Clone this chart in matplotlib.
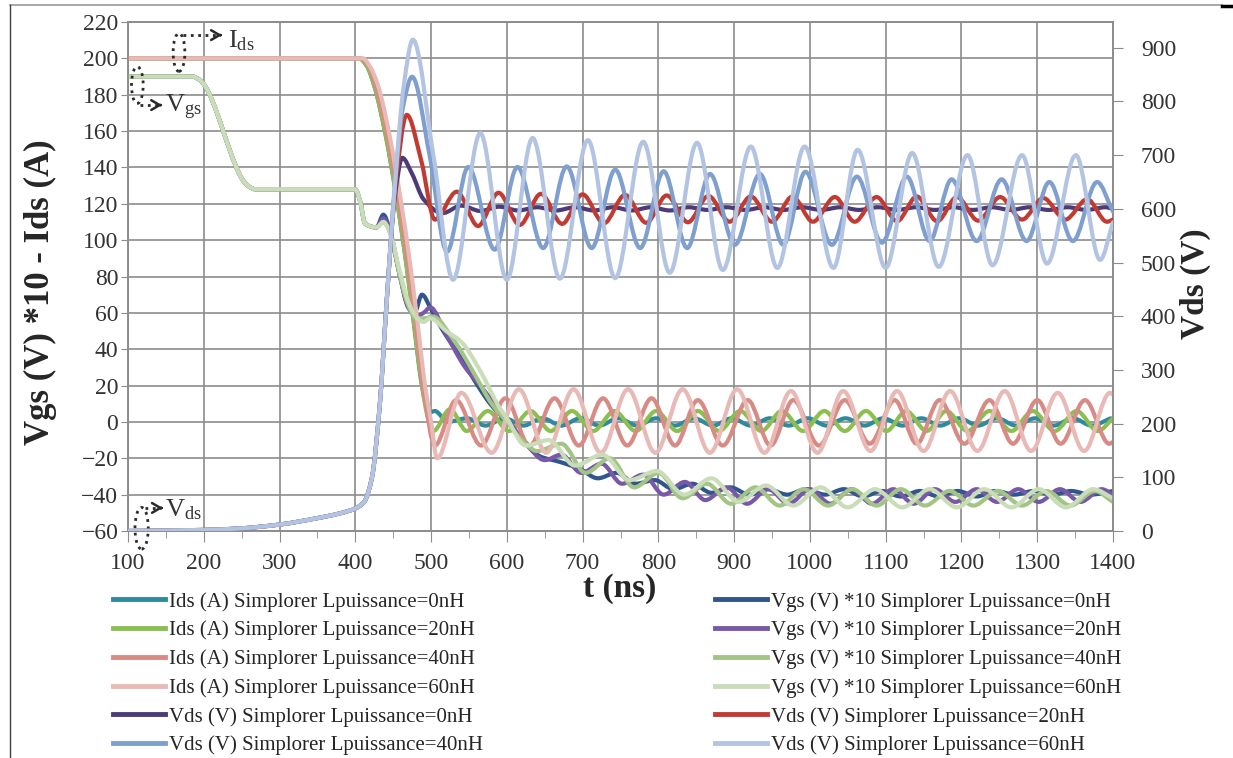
import numpy as np
import matplotlib
matplotlib.use('Agg')
import matplotlib.pyplot as plt
from matplotlib.path import Path
from matplotlib.patches import PathPatch, Ellipse
from matplotlib.lines import Line2D

plt.rcParams['font.family'] = ['Liberation Serif', 'DejaVu Serif']
plt.rcParams['mathtext.default'] = 'regular'

# ---- Ids (A) ----
ids0_t = [100, 405, 415, 425, 440, 455, 468, 478, 488, 497, 505, 522, 547, 572, 597, 622, 647, 672, 697, 722,
          747, 772, 797, 822, 847, 872, 897, 922, 947, 972, 997, 1022, 1047, 1072, 1097, 1122, 1147, 1172, 1197,
          1222, 1247, 1272, 1297, 1322, 1347, 1372, 1397]
ids0_y = [200, 200, 196, 185, 158, 122, 85, 52, 20, 5, 6, 0, 2, -2, 2, -2, 2, -2, 2, -2,
          2, -2, 2, -2, 2, -2, 2, -2, 2, -2, 2, -2, 2, -2, 2, -2, 2, -2, 2,
          -2, 2, -2, 2, -2, 2, -2, 2]

ids20_t = [100, 405, 415, 425, 440, 455, 468, 478, 488, 496, 503, 525, 547, 575, 603, 631, 658, 686, 714, 742,
           770, 797, 825, 852, 880, 908, 936, 963, 991, 1019, 1046, 1074, 1101, 1127, 1154, 1180, 1208, 1237,
           1266, 1294, 1323, 1352, 1380, 1400]
ids20_y = [200, 200, 196, 185, 158, 122, 85, 52, 20, 2, -5, 7, -5, 6, -5, 6, -5, 6, -5, 6,
           -5, 6, -5, 6, -5, 6, -5, 6, -5, 6, -5, 6, -5, 6, -5, 6, -5, 6,
           -5, 6, -5, 6, -5, 2]

ids40_t = [100, 407, 417, 427, 442, 457, 470, 480, 490, 505, 533, 566, 598, 630, 663, 695, 727, 759, 791, 822,
           852, 885, 918, 948, 978, 1012, 1046, 1079, 1112, 1141, 1171, 1204, 1237, 1268, 1300, 1331, 1363, 1395, 1400]
ids40_y = [200, 200, 196, 185, 158, 122, 85, 52, 18, -13, 12, -13, 13, -13, 13, -13, 13, -13, 13, -13,
           12, -13, 12, -13, 12, -13, 12, -12, 12, -12, 12, -12, 12, -12, 12, -12, 12, -12, -11]

ids60_t = [100, 410, 420, 430, 445, 460, 472, 482, 492, 500, 508, 540, 580, 616, 652, 688, 724, 760, 796, 832,
           868, 904, 940, 975, 1010, 1044, 1080, 1115, 1150, 1185, 1221, 1257, 1292, 1327, 1362, 1396, 1400]
ids60_y = [200, 200, 195, 185, 158, 122, 88, 55, 20, 0, -20, 16, -17, 18, -17, 18, -17, 18, -17, 18,
           -17, 18, -17, 17, -17, 17, -16, 17, -16, 17, -16, 17, -16, 16, -16, 16, 15]

# ---- Vgs (V) * 10 ----
vgs0_t = [100, 185, 195, 258, 268, 400, 406, 413, 428, 437, 446, 458, 470, 478, 488, 500, 516, 540, 560, 578,
          600, 622, 644, 670, 697, 720, 745, 770, 795, 820, 845, 870, 895, 920, 945, 970, 995, 1020, 1045, 1070,
          1095, 1120, 1145, 1170, 1195, 1220, 1245, 1270, 1295, 1320, 1345, 1370, 1400]
vgs0_y = [190, 190, 188, 130, 128, 128, 122, 109, 107, 114, 105, 82, 63, 60, 70, 62, 50, 35, 21, 10,
          0, -10, -19, -22, -26, -31, -28, -34, -32, -37, -34, -39, -36, -40, -37, -40, -37, -40, -37, -41,
          -38, -41, -38, -41, -38, -41, -38, -40, -38, -40, -38, -40, -38]

vgs20_t = [100, 185, 195, 258, 268, 400, 406, 413, 428, 437, 446, 458, 470, 480, 490, 499, 520, 545, 565, 580,
           600, 625, 650, 672, 698, 725, 752, 780, 807, 835, 862, 890, 917, 945, 972, 1000, 1027, 1055, 1082,
           1110, 1137, 1165, 1192, 1220, 1247, 1275, 1302, 1330, 1357, 1385, 1400]
vgs20_y = [190, 190, 188, 130, 128, 128, 122, 109, 107, 112, 104, 82, 63, 58, 60, 63, 48, 30, 20, 12,
           2, -12, -21, -18, -28, -23, -34, -29, -40, -33, -43, -36, -45, -37, -45, -37, -45, -37, -45,
           -37, -45, -37, -44, -37, -44, -37, -44, -37, -44, -37, -40]

vgs40_t = [100, 185, 195, 258, 268, 400, 406, 413, 428, 437, 446, 458, 470, 480, 492, 502, 530, 555, 580, 600,
           620, 640, 672, 704, 736, 768, 800, 832, 864, 896, 928, 960, 992, 1024, 1056, 1088, 1120, 1152, 1184,
           1216, 1248, 1280, 1312, 1344, 1376, 1400]
vgs40_y = [190, 190, 188, 130, 128, 128, 122, 109, 107, 110, 104, 82, 64, 57, 57, 58, 45, 28, 10, 0,
           -10, -16, -12, -28, -20, -36, -28, -42, -34, -45, -36, -46, -37, -46, -37, -46, -37, -46, -38,
           -46, -38, -46, -38, -46, -38, -44]

vgs60_t = [100, 185, 195, 258, 268, 400, 406, 413, 428, 437, 446, 458, 470, 480, 490, 499, 520, 540, 565, 590,
           600, 625, 655, 690, 726, 762, 798, 834, 870, 906, 942, 978, 1014, 1050, 1086, 1122, 1158, 1194, 1230,
           1266, 1302, 1338, 1374, 1400]
vgs60_y = [190, 190, 188, 130, 128, 128, 122, 109, 107, 110, 104, 84, 66, 58, 55, 57, 50, 44, 28, 8,
           2, -13, -10, -24, -18, -32, -27, -40, -31, -44, -35, -46, -36, -47, -37, -47, -37, -47, -37,
           -47, -37, -47, -37, -42]

# ---- Vds (V), right axis ----
vds0_t = [100, 200, 250, 300, 350, 380, 400, 412, 422, 432, 442, 452, 462, 475, 490, 515, 540, 565, 590, 615,
          640, 665, 690, 715, 740, 765, 790, 815, 840, 865, 890, 915, 940, 965, 990, 1015, 1040, 1065, 1090,
          1115, 1140, 1165, 1190, 1215, 1240, 1265, 1290, 1315, 1340, 1365, 1390, 1400]
vds0_y = [0, 2, 5, 12, 24, 33, 42, 55, 100, 230, 440, 620, 695, 665, 618, 592, 606, 596, 604, 597,
          603, 597, 603, 597, 603, 597, 603, 597, 603, 598, 603, 598, 603, 598, 603, 598, 603, 598, 603,
          598, 603, 598, 603, 598, 603, 598, 603, 598, 603, 598, 603, 600]

vds20_t = [100, 200, 250, 300, 350, 380, 400, 412, 422, 432, 442, 452, 468, 487, 505, 534, 562, 589, 617, 645,
           673, 700, 728, 756, 784, 811, 839, 866, 894, 922, 950, 977, 1004, 1033, 1059, 1088, 1115, 1141, 1168,
           1194, 1222, 1251, 1280, 1308, 1337, 1366, 1392, 1400]
vds20_y = [0, 2, 5, 12, 24, 33, 42, 55, 100, 230, 440, 630, 775, 690, 580, 632, 568, 630, 570, 628,
           572, 627, 573, 626, 574, 625, 575, 624, 576, 623, 576, 623, 576, 622, 576, 622, 577, 623, 577,
           622, 578, 622, 580, 620, 580, 618, 576, 580]

vds40_t = [100, 200, 250, 300, 350, 380, 400, 412, 422, 432, 442, 452, 463, 475, 498, 521, 549, 584, 614, 648,
           679, 712, 743, 776, 807, 838, 868, 901, 934, 965, 994, 1029, 1062, 1095, 1128, 1158, 1187, 1220, 1253,
           1286, 1316, 1347, 1379, 1400]
vds40_y = [0, 2, 5, 12, 24, 33, 42, 55, 100, 230, 440, 640, 790, 846, 700, 520, 678, 524, 678, 527,
           679, 527, 673, 527, 670, 527, 665, 533, 665, 533, 669, 533, 660, 537, 660, 540, 655, 540, 655,
           540, 650, 540, 650, 595]

vds60_t = [100, 200, 250, 300, 350, 380, 400, 412, 422, 432, 442, 452, 464, 476, 503, 529, 565, 600, 634, 670,
           707, 743, 780, 815, 851, 885, 922, 957, 993, 1031, 1063, 1100, 1135, 1170, 1208, 1241, 1280, 1313,
           1351, 1383, 1400]
vds60_y = [0, 2, 5, 12, 24, 33, 42, 55, 100, 230, 440, 640, 830, 915, 700, 468, 741, 468, 732, 470,
           728, 471, 725, 481, 723, 486, 716, 490, 716, 490, 710, 490, 704, 492, 700, 495, 700, 498,
           700, 505, 575]

W, H = 1233, 758


def smooth(ax, t, y, color, z):
    # smoothed line (like Excel "smoothed line") drawn as cubic bezier through the read points
    t = np.asarray(t, float)
    y = np.asarray(y, float)
    h = np.diff(t)
    d = np.diff(y) / h
    m = np.zeros(len(y))
    for i in range(1, len(y) - 1):
        if d[i - 1] * d[i] > 0:
            w1 = 2 * h[i] + h[i - 1]
            w2 = h[i] + 2 * h[i - 1]
            m[i] = (w1 + w2) / (w1 / d[i - 1] + w2 / d[i])
    m[0] = d[0]
    m[-1] = d[-1]
    verts = [(t[0], y[0])]
    codes = [Path.MOVETO]
    for i in range(len(h)):
        verts += [(t[i] + h[i] / 3, y[i] + m[i] * h[i] / 3),
                  (t[i + 1] - h[i] / 3, y[i + 1] - m[i + 1] * h[i] / 3),
                  (t[i + 1], y[i + 1])]
        codes += [Path.CURVE4] * 3
    ax.add_patch(PathPatch(Path(verts, codes), fill=False, edgecolor=color, lw=3,
                           zorder=z, capstyle='round', joinstyle='round'))


fig = plt.figure(figsize=(W / 100, H / 100), dpi=100)
ax = fig.add_axes([128 / W, 1 - 531 / H, (1113 - 128) / W, (531 - 22) / H])
ax2 = ax.twinx()

c = {
    'ids0': '#2f8a9e', 'ids20': '#8cbf4f', 'ids40': '#d88a84', 'ids60': '#e9b9b6',
    'vgs0': '#30558f', 'vgs20': '#7a58a8', 'vgs40': '#a2c585', 'vgs60': '#c9ddb9',
    'vds0': '#4d3a78', 'vds20': '#c23b33', 'vds40': '#7f9fcf', 'vds60': '#b3c4e2',
}

smooth(ax, ids0_t, ids0_y, c['ids0'], 3)
smooth(ax, vgs0_t, vgs0_y, c['vgs0'], 4)
smooth(ax, ids20_t, ids20_y, c['ids20'], 5)
smooth(ax, vgs20_t, vgs20_y, c['vgs20'], 6)
smooth(ax, ids40_t, ids40_y, c['ids40'], 7)
smooth(ax, vgs40_t, vgs40_y, c['vgs40'], 8)
smooth(ax, ids60_t, ids60_y, c['ids60'], 9)
smooth(ax, vgs60_t, vgs60_y, c['vgs60'], 10)
smooth(ax2, vds0_t, vds0_y, c['vds0'], 3)
smooth(ax2, vds20_t, vds20_y, c['vds20'], 4)
smooth(ax2, vds40_t, vds40_y, c['vds40'], 5)
smooth(ax2, vds60_t, vds60_y, c['vds60'], 6)

gc = '#8c8c8c'
tc = '#333333'
ax.set_xlim(100, 1400)
ax.set_ylim(-60, 220)
ax2.set_ylim(0, 948)
ax.set_xticks(range(100, 1401, 100))
ax.set_xticks(range(150, 1400, 100), minor=True)
ax.set_yticks(range(-60, 221, 20))
ax2.set_yticks(range(0, 901, 100))
ax.grid(True, which='major', color=gc, lw=1.2)
ax.set_axisbelow(True)
ax.tick_params(axis='x', which='major', direction='out', length=8, color=gc, labelsize=17, labelcolor=tc, pad=8)
ax.tick_params(axis='x', which='minor', direction='out', length=5, color=gc)
ax.tick_params(axis='y', direction='out', length=5, color=gc, labelsize=17, labelcolor=tc, pad=2)
ax2.tick_params(axis='y', direction='out', length=7, color=gc, labelsize=17, labelcolor=tc, pad=13)
for a in (ax, ax2):
    for s in a.spines.values():
        s.set_color(gc)
        s.set_linewidth(1.2)

fig.text(40 / W, 1 - 292 / H, 'Vgs (V) *10 - Ids (A)', rotation=90, ha='center', va='center',
         fontsize=25, fontweight='bold', color='#262626')
fig.text(1195 / W, 1 - 284 / H, 'Vds (V)', rotation=90, ha='center', va='center',
         fontsize=24, fontweight='bold', color='#262626')
fig.text(620 / W, 1 - 588 / H, 't (ns)', ha='center', va='center',
         fontsize=24, fontweight='bold', color='#262626')

# dotted annotations
ac = '#2a2a2a'
for (cx, cy, w, h) in [(167.3, 203.3, 15.4, 21), (112.3, 185.3, 15.4, 20.2), (118, -58.5, 17.6, 22.9)]:
    ax.add_patch(Ellipse((cx, cy), w, h, fill=False, ec=ac, lw=2, ls=':', clip_on=False, zorder=20))
for (x0, x1, yy) in [(172.6, 224, 212.8), (115.8, 145, 174.3), (122.4, 146, -47.3)]:
    ax.plot([x0, x1 - 3], [yy, yy], color=ac, lw=2, ls=':', clip_on=False, zorder=20)
    ax.annotate('', xy=(x1, yy), xytext=(x1 - 6, yy), clip_on=False, zorder=20,
                arrowprops=dict(arrowstyle='->,head_length=0.6,head_width=0.35', color=ac, lw=1.8))
ax.text(232, 206, r'$I_{ds}$', fontsize=19, color='#333333', ha='left', va='baseline', zorder=21)
ax.text(149, 170.5, r'$V_{gs}$', fontsize=19, color='#333333', ha='left', va='baseline', zorder=21)
ax.text(149, -51.7, r'$V_{ds}$', fontsize=19, color='#333333', ha='left', va='baseline', zorder=21)

# legends
def h(key, label):
    return Line2D([], [], color=c[key], lw=3.5, label=label)

col1 = [h('ids0', 'Ids (A) Simplorer Lpuissance=0nH'),
        h('ids20', 'Ids (A) Simplorer Lpuissance=20nH'),
        h('ids40', 'Ids (A) Simplorer Lpuissance=40nH'),
        h('ids60', 'Ids (A) Simplorer Lpuissance=60nH'),
        h('vds0', 'Vds (V) Simplorer Lpuissance=0nH'),
        h('vds40', 'Vds (V) Simplorer Lpuissance=40nH')]
col2 = [h('vgs0', 'Vgs (V) *10 Simplorer Lpuissance=0nH'),
        h('vgs20', 'Vgs (V) *10 Simplorer Lpuissance=20nH'),
        h('vgs40', 'Vgs (V) *10 Simplorer Lpuissance=40nH'),
        h('vgs60', 'Vgs (V) *10 Simplorer Lpuissance=60nH'),
        h('vds20', 'Vds (V) Simplorer Lpuissance=20nH'),
        h('vds60', 'Vds (V) Simplorer Lpuissance=60nH')]
for hs, x0 in [(col1, 113), (col2, 715)]:
    leg = fig.legend(handles=hs, loc='upper left', bbox_to_anchor=(x0 / W, 1 - 592 / H), frameon=False,
                     fontsize=15, handlelength=2.5, handletextpad=0.2, labelspacing=0.43,
                     borderpad=0, borderaxespad=0)
    for tx in leg.get_texts():
        tx.set_color('#262626')

# page frame
fig.add_artist(Line2D([10 / W, 1222 / W], [1 - 5 / H, 1 - 5 / H], color='#9a9a9a', lw=1.2))
fig.add_artist(Line2D([1222 / W, 1], [1 - 6 / H, 1 - 6 / H], color='black', lw=2.5))
fig.add_artist(Line2D([10 / W, 10 / W], [0, 1 - 5 / H], color='#404040', lw=1))

fig.savefig('out.png', dpi=100)
